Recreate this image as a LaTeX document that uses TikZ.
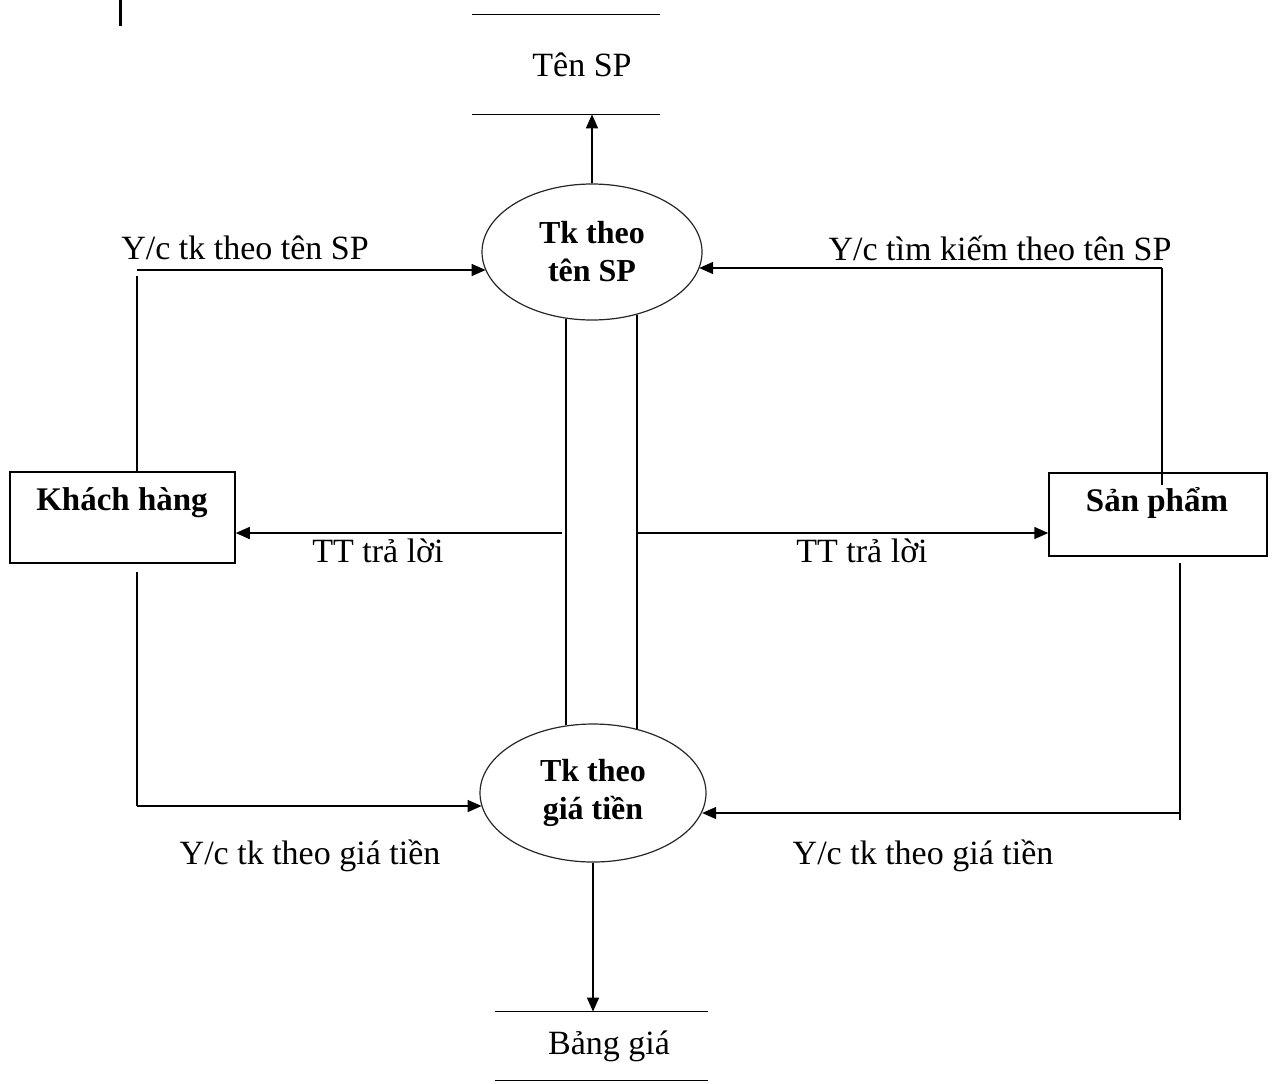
\documentclass[tikz,border=0pt]{standalone}
\usepackage{fontspec}
\setmainfont{Liberation Serif}
\usetikzlibrary{arrows.meta,shapes.geometric}
\begin{document}
\begin{tikzpicture}[x=0.5pt,y=-0.5pt,
  lbl/.style={font=\fontsize{17}{20}\selectfont, inner sep=0pt},
  proc/.style={draw=black!85, line width=0.6pt, ellipse, inner sep=0pt,
    align=center, font=\fontsize{16}{19}\selectfont\bfseries},
  ent/.style={draw, line width=0.75pt, inner sep=0pt,
    font=\fontsize{16.5}{19}\selectfont\bfseries},
  storebox/.style={inner sep=0pt, font=\fontsize{17}{20}\selectfont},
  flow/.style={line width=0.75pt},
  arr/.style={line width=0.75pt, -{Triangle[length=7pt,width=6pt]}}
]
\useasboundingbox (0,0) rectangle (1272,1083);

% stray mark top-left
\draw[line width=1.5pt] (120,0) -- (120,26);

% processes
\node[proc, minimum width=110pt, minimum height=68pt] (e1) at (592,252) {Tk theo\\tên SP};
\node[proc, minimum width=113pt, minimum height=69pt] (e2) at (593,793) {Tk theo\\giá tiền};

% entities
\node[ent, minimum width=112.5pt, minimum height=45.5pt] (kh) at (122.5,517.5) {};
\node[font=\fontsize{16.5}{19}\selectfont\bfseries, inner sep=0pt] (khtext) at (122,503) {Khách hàng};
\node[ent, minimum width=109pt, minimum height=41.5pt] (sp) at (1158,514.5) {};
\node[font=\fontsize{16.5}{19}\selectfont\bfseries, inner sep=0pt] (sptext) at (1157,503) {Sản phẩm};

% stores
\node[storebox, minimum width=94pt, minimum height=49.5pt] (ts) at (566,64.5) {\hspace*{16pt}Tên SP};
\draw[flow] (ts.north west) -- (ts.north east);
\draw[flow] (ts.south west) -- (ts.south east);
\node[storebox, minimum width=106.5pt, minimum height=34pt] (bg) at (601.5,1046) {\hspace*{7.5pt}Bảng giá};
\draw[flow] (bg.north west) -- (bg.north east);
\draw[flow] (bg.south west) -- (bg.south east);

% outputs to stores
\draw[arr] (e1.north) -- (e1.north |- ts.south);
\draw[arr] (e2.south) -- (e2.south |- bg.north);

% Khach hang -> Tk theo ten SP
\coordinate (c1) at (137,270);
\coordinate (c1s) at (137,276);
\draw[flow] (kh.north -| c1) -- (c1s);
\draw[arr] (c1) -- (c1 -| e1.190);
\node[lbl] (l1) at (245,248) {Y/c tk theo tên SP};

% San pham -> Tk theo ten SP
\coordinate (c2) at (1162,268);
\draw[flow] (1162,485) -- (c2);
\draw[arr] (c2) -- (c2 -| e1.351);
\node[lbl] (l2) at (1000,248) {Y/c tìm kiếm theo tên SP};

% double vertical lines between processes
\coordinate (v1) at (566,0);
\coordinate (v2) at (637,0);
\draw[flow] (v1 |- e1.248) -- (v1 |- e2.112);
\draw[flow] (v2 |- e1.306) -- (v2 |- e2.55);

% TT tra loi
\coordinate (t1) at (562,533);
\coordinate (t2) at (637,533);
\draw[arr] (t1) -- (t1 -| kh.east);
\draw[arr] (t2) -- (t2 -| sp.west);
\node[lbl] (l3) at (378,551) {TT trả lời};
\node[lbl] (l4) at (862,551) {TT trả lời};

% Khach hang -> Tk theo gia tien
\coordinate (c3) at (137,806);
\draw[flow] (137,572) -- (c3);
\draw[arr] (c3) -- (c3 -| e2.187);
\node[lbl] (l5) at (310,856) {Y/c tk theo giá tiền};

% San pham -> Tk theo gia tien
\coordinate (c4) at (1180,813);
\draw[flow] (1180,563) -- (1180,820);
\draw[arr] (c4) -- (c4 -| e2.350);
\node[lbl] (l6) at (923,856) {Y/c tk theo giá tiền};
\end{tikzpicture}
\end{document}
